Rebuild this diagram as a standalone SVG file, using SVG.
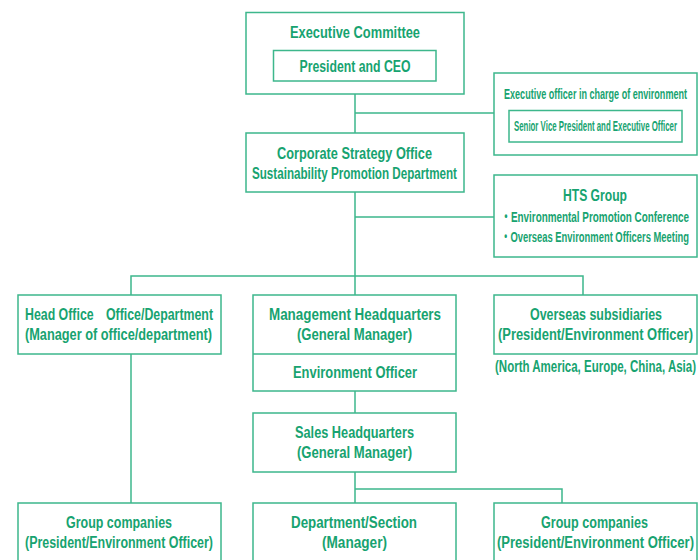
<svg xmlns="http://www.w3.org/2000/svg" width="700" height="560" viewBox="0 0 700 560">
  <style>
    .box { fill: #ffffff; stroke: #3db78c; stroke-width: 1.5; }
    .wire { fill: none; stroke: #3db78c; stroke-width: 1.5; }
    text { font-family: "Liberation Sans Narrow", "Liberation Sans", "Noto Sans CJK JP", sans-serif; font-weight: bold; fill: #17a370; font-size: 16px; }
    .c { text-anchor: middle; }
    .s { font-size: 14.5px; }
    .l { font-size: 17px; }
  </style>
  <rect width="700" height="560" fill="#ffffff"/>

  <!-- connectors -->
  <g id="connectors">
    <path class="wire" d="M355 94 V133 M355 113 H494"/>
    <path class="wire" d="M355 192 V276 M355 217 H494"/>
    <path class="wire" d="M131 295 V276 H583 V295 M355 276 V295"/>
    <path class="wire" d="M131 354 V503"/>
    <path class="wire" d="M355 391 V413"/>
    <path class="wire" d="M355 472 V503 M355 489 H562 V503"/>
  </g>

  <g id="executive-committee">
    <rect class="box" x="246" y="12.5" width="218" height="81.5"/>
    <text class="c l" x="355" y="38" textLength="130" lengthAdjust="spacingAndGlyphs">Executive Committee</text>
    <rect class="box" x="273.5" y="50.5" width="162.5" height="30.5"/>
    <text class="c" x="355" y="72" textLength="111" lengthAdjust="spacingAndGlyphs">President and CEO</text>
  </g>

  <g id="environment-executive">
    <rect class="box" x="494" y="73" width="203" height="82"/>
    <text class="c s" x="595.5" y="99" textLength="183" lengthAdjust="spacingAndGlyphs">Executive officer in charge of environment</text>
    <rect class="box" x="509" y="110.5" width="173" height="31.5"/>
    <text class="c s" x="595.5" y="131" textLength="163" lengthAdjust="spacingAndGlyphs">Senior Vice President and Executive Officer</text>
  </g>

  <g id="corporate-strategy">
    <rect class="box" x="246" y="133" width="218" height="59"/>
    <text class="c" x="354.5" y="159" textLength="155" lengthAdjust="spacingAndGlyphs">Corporate Strategy Office</text>
    <text class="c" x="354.5" y="179" textLength="205" lengthAdjust="spacingAndGlyphs">Sustainability Promotion Department</text>
  </g>

  <g id="hts-group">
    <rect class="box" x="494" y="175" width="203" height="82"/>
    <text class="c" x="595" y="201" textLength="64" lengthAdjust="spacingAndGlyphs">HTS Group</text>
    <text class="s" x="501" y="222" textLength="188" lengthAdjust="spacingAndGlyphs">・Environmental Promotion Conference</text>
    <text class="s" x="501" y="242" textLength="188" lengthAdjust="spacingAndGlyphs">・Overseas Environment Officers Meeting</text>
  </g>

  <g id="head-office">
    <rect class="box" x="18" y="295" width="203" height="59"/>
    <text class="c" x="119" y="320" textLength="188" lengthAdjust="spacingAndGlyphs">Head Office　Office/Department</text>
    <text class="c" x="118.5" y="340" textLength="187" lengthAdjust="spacingAndGlyphs">(Manager of office/department)</text>
  </g>

  <g id="management-hq">
    <rect class="box" x="253" y="295" width="203" height="96"/>
    <line class="wire" x1="253" y1="354" x2="456" y2="354"/>
    <text class="c" x="355" y="320" textLength="172" lengthAdjust="spacingAndGlyphs">Management Headquarters</text>
    <text class="c" x="354.5" y="340" textLength="115" lengthAdjust="spacingAndGlyphs">(General Manager)</text>
    <text class="c" x="355" y="378" textLength="124" lengthAdjust="spacingAndGlyphs">Environment Officer</text>
  </g>

  <g id="overseas-subsidiaries">
    <rect class="box" x="494" y="295" width="203" height="59"/>
    <text class="c" x="596" y="320" textLength="132" lengthAdjust="spacingAndGlyphs">Overseas subsidiaries</text>
    <text class="c" x="595.5" y="340" textLength="195" lengthAdjust="spacingAndGlyphs">(President/Environment Officer)</text>
    <text class="c" x="595.5" y="372" textLength="201" lengthAdjust="spacingAndGlyphs">(North America, Europe, China, Asia)</text>
  </g>

  <g id="sales-hq">
    <rect class="box" x="253" y="413" width="203" height="59"/>
    <text class="c" x="354.5" y="438" textLength="119" lengthAdjust="spacingAndGlyphs">Sales Headquarters</text>
    <text class="c" x="354.5" y="458" textLength="115" lengthAdjust="spacingAndGlyphs">(General Manager)</text>
  </g>

  <g id="group-companies-left">
    <rect class="box" x="18" y="503" width="203" height="70"/>
    <text class="c" x="119" y="528" textLength="106" lengthAdjust="spacingAndGlyphs">Group companies</text>
    <text class="c" x="119" y="548" textLength="188" lengthAdjust="spacingAndGlyphs">(President/Environment Officer)</text>
  </g>

  <g id="department-section">
    <rect class="box" x="253" y="503" width="203" height="70"/>
    <text class="c" x="354" y="528" textLength="126" lengthAdjust="spacingAndGlyphs">Department/Section</text>
    <text class="c" x="354.5" y="548" textLength="65" lengthAdjust="spacingAndGlyphs">(Manager)</text>
  </g>

  <g id="group-companies-right">
    <rect class="box" x="494" y="503" width="203" height="70"/>
    <text class="c" x="594.5" y="528" textLength="107" lengthAdjust="spacingAndGlyphs">Group companies</text>
    <text class="c" x="595.5" y="548" textLength="197" lengthAdjust="spacingAndGlyphs">(President/Environment Officer)</text>
  </g>
</svg>
